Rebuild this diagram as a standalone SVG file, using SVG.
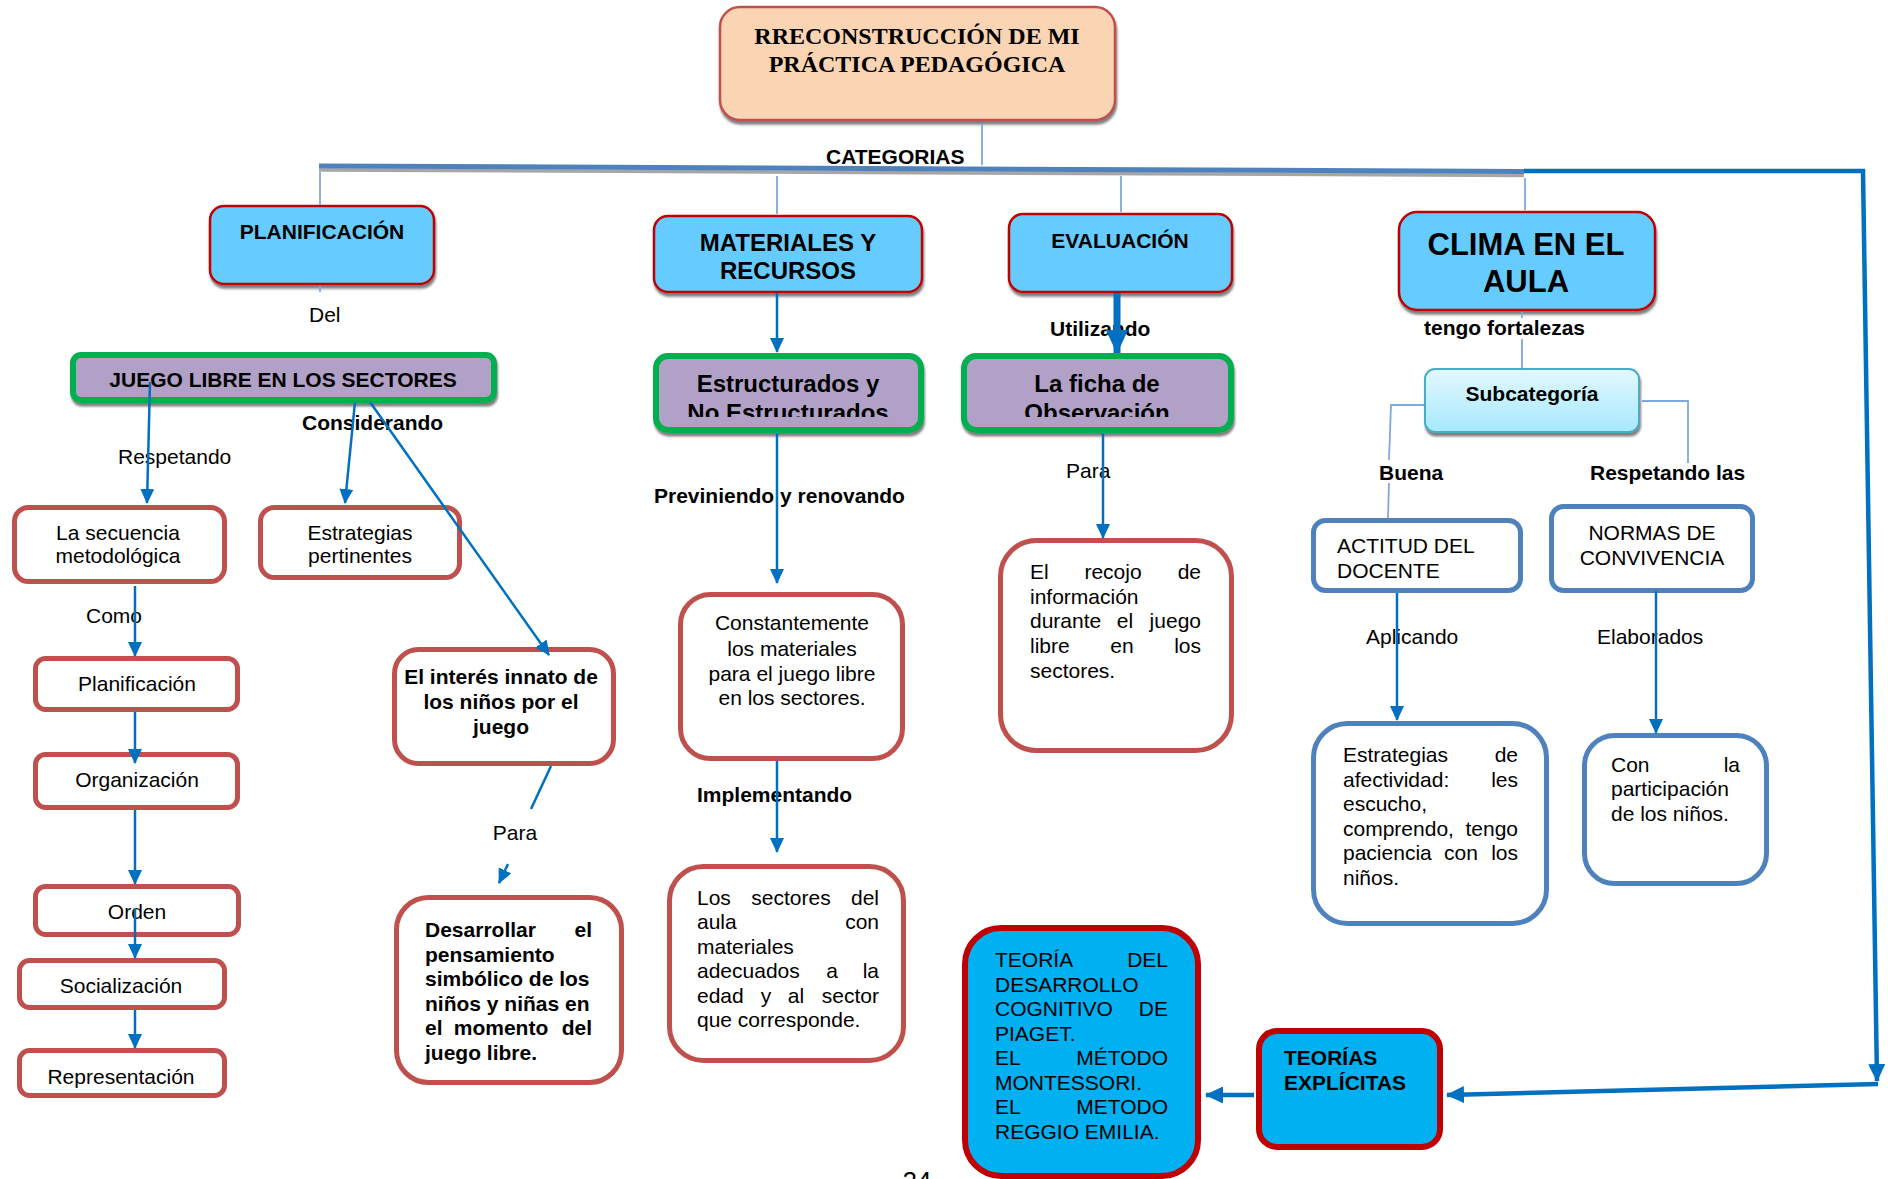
<svg xmlns="http://www.w3.org/2000/svg" width="1888" height="1179" viewBox="0 0 1888 1179">
<style>
text{font-family:"Liberation Sans",Arial,sans-serif;font-size:21px;fill:#000}
.b{font-weight:bold}
.m{text-anchor:middle}
.e{text-anchor:end}
.ttl{font-family:"Liberation Serif","Times New Roman",serif;font-size:24px;font-weight:bold}
.cat{fill:#66CCFF;stroke:#C00000;stroke-width:2.5}
.pur{fill:#B2A1C7;stroke:#00B050;stroke-width:6}
.rr{fill:#fff;stroke:#C0504D;stroke-width:5}
.bb{fill:#fff;stroke:#4F81BD;stroke-width:5}
.th{fill:#00B0F0;stroke:#C00000;stroke-width:6}
.ar{stroke:#0070C0;stroke-width:2.5;fill:none}
.thin{stroke:#7FA9DC;stroke-width:1.8;fill:none}
</style>
<defs>
<filter id="sh" x="-10%" y="-10%" width="120%" height="130%">
<feDropShadow dx="1" dy="3.5" stdDeviation="1.2" flood-color="#555" flood-opacity="0.75"/>
</filter>
<linearGradient id="sg" x1="0" y1="0" x2="0" y2="1">
<stop offset="0" stop-color="#E2F8FF"/>
<stop offset="1" stop-color="#A6E9FD"/>
</linearGradient>
<marker id="a" markerUnits="userSpaceOnUse" markerWidth="15" markerHeight="14" viewBox="0 0 15 14" refX="14" refY="7" orient="auto">
<path d="M0,0 L15,7 L0,14 Z" fill="#0070C0"/>
</marker>
<marker id="c" markerUnits="userSpaceOnUse" markerWidth="18" markerHeight="17" viewBox="0 0 18 17" refX="17" refY="8.5" orient="auto">
<path d="M0,0 L18,8.5 L0,17 Z" fill="#0070C0"/>
</marker>
<marker id="L" markerUnits="userSpaceOnUse" markerWidth="24" markerHeight="22" viewBox="0 0 24 22" refX="23" refY="11" orient="auto">
<path d="M0,0 L24,11 L0,22 Z" fill="#0070C0"/>
</marker>
<clipPath id="clipE"><rect x="656" y="356" width="265" height="61"/></clipPath>
<clipPath id="clipF"><rect x="964" y="356" width="267" height="61"/></clipPath>
</defs>

<g id="labels">
<text class="b" x="826" y="164">CATEGORIAS</text>
<text x="309" y="322">Del</text>
<text x="118" y="464">Respetando</text>
<text class="b" x="302" y="430">Considerando</text>
<text x="86" y="623">Como</text>
<text class="m" x="515" y="840">Para</text>
<text class="b" x="1050" y="336">Utilizando</text>
<text class="b" x="654" y="503">Previniendo y renovando</text>
<text x="1066" y="478">Para</text>
<text class="b" x="697" y="802">Implementando</text>
<text class="b" x="1424" y="335">tengo fortalezas</text>
<text class="b" x="1379" y="480">Buena</text>
<text class="b" x="1590" y="480">Respetando las</text>
<text x="1366" y="644">Aplicando</text>
<text x="1597" y="644">Elaborados</text>
<text class="m" x="917" y="1190" style="font-size:26px">24</text>
</g>

<g id="n-title">
<rect x="720" y="7" width="395" height="113" rx="20" fill="#FBD4B4" stroke="#C0504D" stroke-width="2.5" filter="url(#sh)"/>
<text class="ttl m" x="917" y="44">RRECONSTRUCCIÓN DE MI</text>
<text class="ttl m" x="917" y="72">PRÁCTICA PEDAGÓGICA</text>
</g>

<g id="n-planificacion">
<rect class="cat" x="210" y="206" width="224" height="78" rx="14" filter="url(#sh)"/>
<text class="b m" x="322" y="239">PLANIFICACIÓN</text>
</g>
<g id="n-materiales">
<rect class="cat" x="654" y="216" width="268" height="76" rx="14" filter="url(#sh)"/>
<text class="b m" x="788" y="251" style="font-size:24px">MATERIALES Y</text>
<text class="b m" x="788" y="279" style="font-size:24px">RECURSOS</text>
</g>
<g id="n-evaluacion">
<rect class="cat" x="1009" y="214" width="223" height="78" rx="14" filter="url(#sh)"/>
<text class="b m" x="1120" y="248">EVALUACIÓN</text>
</g>
<g id="n-clima">
<rect class="cat" x="1399" y="212" width="256" height="98" rx="18" filter="url(#sh)"/>
<text class="b m" x="1526" y="255" style="font-size:31px">CLIMA EN EL</text>
<text class="b m" x="1526" y="292" style="font-size:31px">AULA</text>
</g>

<g id="n-juego">
<rect class="pur" x="73" y="355" width="421" height="45" rx="8" filter="url(#sh)"/>
<text class="b m" x="283" y="387">JUEGO LIBRE EN LOS SECTORES</text>
</g>
<g id="n-estructurados">
<rect class="pur" x="656" y="356" width="265" height="74" rx="12" filter="url(#sh)"/>
<g clip-path="url(#clipE)">
<text class="b m" x="788" y="392" style="font-size:24px">Estructurados y</text>
<text class="b m" x="788" y="421" style="font-size:24px">No Estructurados</text>
</g>
</g>
<g id="n-ficha">
<rect class="pur" x="964" y="356" width="267" height="74" rx="12" filter="url(#sh)"/>
<g clip-path="url(#clipF)">
<text class="b m" x="1097" y="392" style="font-size:24px">La ficha de</text>
<text class="b m" x="1097" y="421" style="font-size:24px">Observación</text>
</g>
</g>
<g id="n-subcategoria">
<rect x="1425" y="369" width="214" height="63" rx="10" fill="url(#sg)" stroke="#4BACC6" stroke-width="2" filter="url(#sh)"/>
<text class="b m" x="1532" y="401">Subcategoría</text>
</g>

<g id="n-secuencia">
<rect class="rr" x="14.5" y="507.5" width="210" height="74" rx="14"/>
<text class="m" x="118" y="540">La secuencia</text>
<text class="m" x="118" y="563">metodológica</text>
</g>
<g id="n-estrategias-pert">
<rect class="rr" x="260.5" y="507.5" width="199" height="70" rx="14"/>
<text class="m" x="360" y="540">Estrategias</text>
<text class="m" x="360" y="563">pertinentes</text>
</g>
<g id="n-planif2">
<rect class="rr" x="35.5" y="658.5" width="202" height="51" rx="10"/>
<text class="m" x="137" y="691">Planificación</text>
</g>
<g id="n-organizacion">
<rect class="rr" x="35.5" y="754.5" width="202" height="53" rx="10"/>
<text class="m" x="137" y="787">Organización</text>
</g>
<g id="n-orden">
<rect class="rr" x="35.5" y="886.5" width="203" height="48" rx="10"/>
<text class="m" x="137" y="919">Orden</text>
</g>
<g id="n-socializacion">
<rect class="rr" x="19.5" y="960.5" width="205" height="47" rx="10"/>
<text class="m" x="121" y="993">Socialización</text>
</g>
<g id="n-representacion">
<rect class="rr" x="19.5" y="1050.5" width="205" height="45" rx="10"/>
<text class="m" x="121" y="1084">Representación</text>
</g>

<g id="n-interes">
<rect class="rr" x="394.5" y="649.5" width="219" height="114" rx="24"/>
<text class="b m" x="501" y="684">El interés innato de</text>
<text class="b m" x="501" y="709">los niños por el</text>
<text class="b m" x="501" y="734">juego</text>
</g>
<g id="n-desarrollar">
<rect class="rr" x="396.5" y="897.5" width="225" height="185" rx="32"/>
<text class="b" x="425" y="937">Desarrollar</text><text class="b e" x="592" y="937">el</text>
<text class="b" x="425" y="961.5">pensamiento</text>
<text class="b" x="425" y="986">simbólico de los</text>
<text class="b" x="425" y="1010.5">niños y niñas en</text>
<text class="b" x="425" y="1035">el</text><text class="b m" x="501" y="1035">momento</text><text class="b e" x="592" y="1035">del</text>
<text class="b" x="425" y="1059.5">juego libre.</text>
</g>

<g id="n-constantemente">
<rect class="rr" x="680.5" y="594.5" width="222" height="164" rx="30"/>
<text class="m" x="792" y="630">Constantemente</text>
<text class="m" x="792" y="656">los materiales</text>
<text class="m" x="792" y="681">para el juego libre</text>
<text class="m" x="792" y="705">en los sectores.</text>
</g>
<g id="n-sectores">
<rect class="rr" x="669.5" y="866.5" width="234" height="194" rx="34"/>
<text x="697" y="905">Los</text><text class="m" x="791" y="905">sectores</text><text class="e" x="879" y="905">del</text>
<text x="697" y="929">aula</text><text class="e" x="879" y="929">con</text>
<text x="697" y="954">materiales</text>
<text x="697" y="978">adecuados</text><text class="m" x="832" y="978">a</text><text class="e" x="879" y="978">la</text>
<text x="697" y="1003">edad</text><text class="m" x="766" y="1003">y</text><text class="m" x="796" y="1003">al</text><text class="e" x="879" y="1003">sector</text>
<text x="697" y="1027">que corresponde.</text>
</g>
<g id="n-recojo">
<rect class="rr" x="1000.5" y="540.5" width="231" height="210" rx="36"/>
<text x="1030" y="579">El</text><text class="m" x="1113" y="579">recojo</text><text class="e" x="1201" y="579">de</text>
<text x="1030" y="604">información</text>
<text x="1030" y="628">durante</text><text class="m" x="1125" y="628">el</text><text class="e" x="1201" y="628">juego</text>
<text x="1030" y="653">libre</text><text class="m" x="1122" y="653">en</text><text class="e" x="1201" y="653">los</text>
<text x="1030" y="678">sectores.</text>
</g>

<g id="n-actitud">
<rect class="bb" x="1313.5" y="520.5" width="207" height="70" rx="12"/>
<text x="1337" y="553">ACTITUD DEL</text>
<text x="1337" y="578">DOCENTE</text>
</g>
<g id="n-normas">
<rect class="bb" x="1551.5" y="506.5" width="201" height="84" rx="12"/>
<text class="m" x="1652" y="540">NORMAS DE</text>
<text class="m" x="1652" y="565">CONVIVENCIA</text>
</g>
<g id="n-afectividad">
<rect class="bb" x="1313.5" y="723.5" width="233" height="200" rx="34"/>
<text x="1343" y="762">Estrategias</text><text class="e" x="1518" y="762">de</text>
<text x="1343" y="786.5">afectividad:</text><text class="e" x="1518" y="786.5">les</text>
<text x="1343" y="811">escucho,</text>
<text x="1343" y="835.5">comprendo,</text><text class="e" x="1518" y="835.5">tengo</text>
<text x="1343" y="860">paciencia</text><text class="m" x="1461" y="860">con</text><text class="e" x="1518" y="860">los</text>
<text x="1343" y="884.5">niños.</text>
</g>
<g id="n-participacion">
<rect class="bb" x="1584.5" y="735.5" width="182" height="148" rx="30"/>
<text x="1611" y="772">Con</text><text class="e" x="1740" y="772">la</text>
<text x="1611" y="796">participación</text>
<text x="1611" y="821">de los niños.</text>
</g>

<g id="n-teoria">
<rect class="th" x="965" y="928" width="233" height="248" rx="36"/>
<text x="995" y="967">TEORÍA</text><text class="e" x="1168" y="967">DEL</text>
<text x="995" y="991.5">DESARROLLO</text>
<text x="995" y="1016">COGNITIVO</text><text class="e" x="1168" y="1016">DE</text>
<text x="995" y="1040.5">PIAGET.</text>
<text x="995" y="1065">EL</text><text class="e" x="1168" y="1065">MÉTODO</text>
<text x="995" y="1089.5">MONTESSORI.</text>
<text x="995" y="1114">EL</text><text class="e" x="1168" y="1114">METODO</text>
<text x="995" y="1138.5">REGGIO EMILIA.</text>
</g>
<g id="n-teorias-explicitas">
<rect class="th" x="1259" y="1031" width="181" height="116" rx="18"/>
<text class="b" x="1284" y="1065">TEORÍAS</text>
<text class="b" x="1284" y="1090">EXPLÍCITAS</text>
</g>

<g id="connectors">
<line class="thin" x1="982" y1="124" x2="982" y2="165"/>
<line x1="319" y1="170" x2="1524" y2="175.5" stroke="#A6A6A6" stroke-width="3.5"/>
<line x1="319" y1="166" x2="1524" y2="171.5" stroke="#4F81BD" stroke-width="5"/>
<line class="thin" x1="320" y1="172" x2="320" y2="205"/>
<line class="thin" x1="777" y1="176" x2="777" y2="214"/>
<line class="thin" x1="1121" y1="176" x2="1121" y2="212"/>
<line class="thin" x1="1525" y1="178" x2="1525" y2="210"/>
<line class="thin" x1="320" y1="286" x2="320" y2="292"/>
<path d="M1524,171 L1863,171 L1877,1081" stroke="#0070C0" stroke-width="4.5" fill="none" marker-end="url(#c)"/>
<path d="M1878,1084 L1447,1095" stroke="#0070C0" stroke-width="4.5" fill="none" marker-end="url(#c)"/>
<path d="M1254,1095 L1206,1095" stroke="#0070C0" stroke-width="4.5" fill="none" marker-end="url(#c)"/>
<line class="ar" x1="150" y1="382" x2="147" y2="503" marker-end="url(#a)"/>
<line class="ar" x1="355" y1="402" x2="345" y2="503" marker-end="url(#a)"/>
<line class="ar" x1="370" y1="402" x2="549" y2="655" marker-end="url(#a)"/>
<line class="ar" x1="135" y1="586" x2="135" y2="656" marker-end="url(#a)"/>
<line class="ar" x1="135" y1="712" x2="135" y2="763" marker-end="url(#a)"/>
<line class="ar" x1="135" y1="810" x2="135" y2="884" marker-end="url(#a)"/>
<line class="ar" x1="135" y1="908" x2="135" y2="958" marker-end="url(#a)"/>
<line class="ar" x1="135" y1="1010" x2="135" y2="1048" marker-end="url(#a)"/>
<line class="ar" x1="551" y1="766" x2="531" y2="809"/>
<line class="ar" x1="508" y1="864" x2="499" y2="883" marker-end="url(#a)"/>
<line class="ar" x1="777" y1="293" x2="777" y2="352" marker-end="url(#a)"/>
<line x1="1117" y1="293" x2="1117" y2="353" stroke="#0070C0" stroke-width="7" marker-end="url(#L)"/>
<line class="ar" x1="777" y1="433" x2="777" y2="583" marker-end="url(#a)"/>
<line class="ar" x1="1103" y1="433" x2="1103" y2="538" marker-end="url(#a)"/>
<line class="ar" x1="777" y1="761" x2="777" y2="852" marker-end="url(#a)"/>
<line class="thin" x1="1522" y1="312" x2="1522" y2="318"/>
<line class="thin" x1="1522" y1="339" x2="1522" y2="368"/>
<path class="thin" d="M1424,405 L1391,405 L1389,460 M1389,483 L1388,518"/>
<path class="thin" d="M1642,401 L1688,401 L1688,463"/>
<line class="ar" x1="1397" y1="593" x2="1397" y2="720" marker-end="url(#a)"/>
<line class="ar" x1="1656" y1="591" x2="1656" y2="733" marker-end="url(#a)"/>
</g>
</svg>
